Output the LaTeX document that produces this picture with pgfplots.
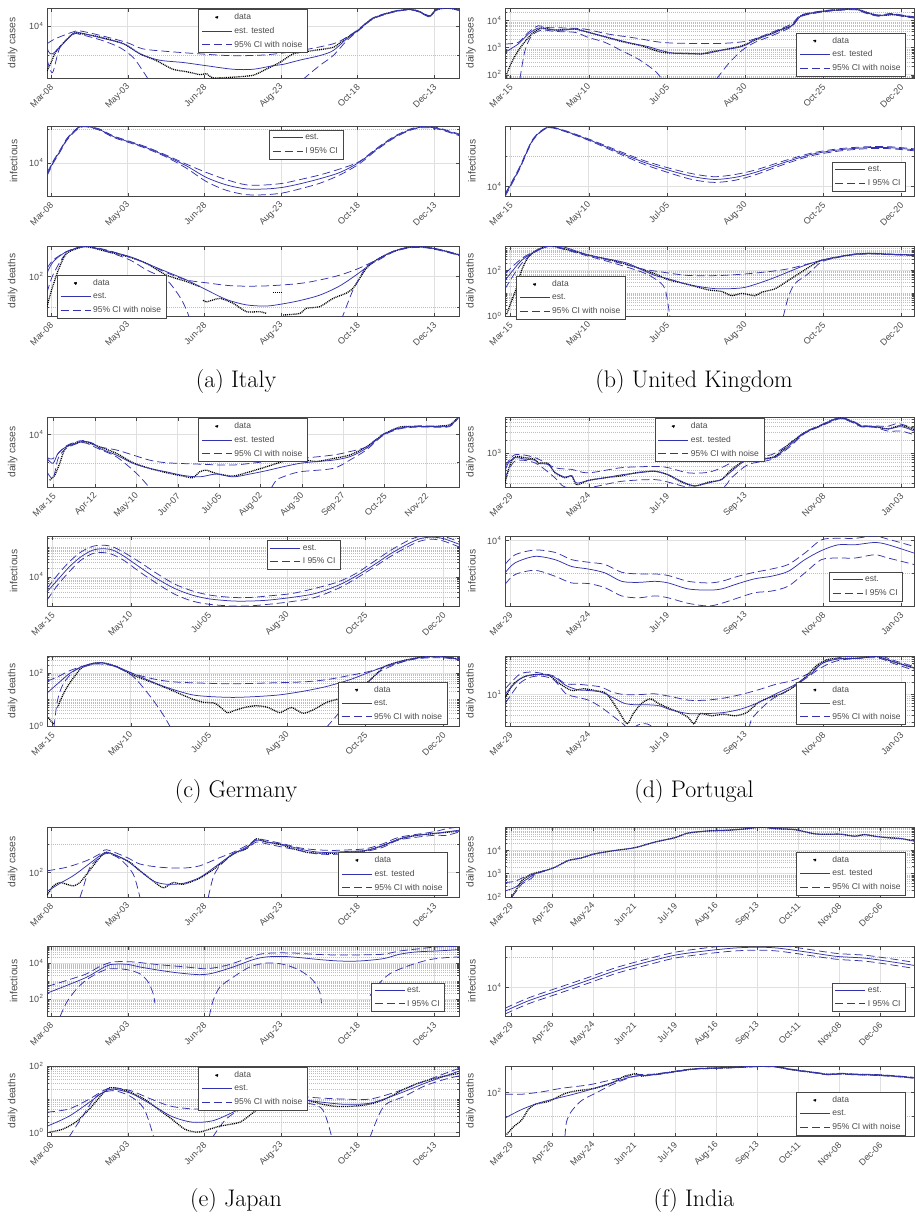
\documentclass[border=0pt]{standalone}
\usepackage{fontspec}
\usepackage{pgfplots}
\pgfplotsset{compat=1.18}
\newfontfamily\arial{Liberation Sans}
\definecolor{eblue}{RGB}{50,50,175}
\definecolor{axgray}{RGB}{70,70,70}
\definecolor{gridgray}{RGB}{224,224,224}
\definecolor{mingray}{RGB}{190,190,190}
\definecolor{txtgray}{RGB}{75,75,75}
\newcommand{\tickf}{\arial\fontsize{9}{10}\selectfont}
\newcommand{\labf}{\arial\fontsize{10.3}{12}\selectfont}
\newcommand{\legf}{\arial\fontsize{8.5}{10}\selectfont}
\newcommand{\capf}{\fontsize{24}{28}\selectfont}
\newcommand{\tl}[1]{10\kern0.6pt\textsuperscript{#1}}
\pgfplotsset{
 every axis/.append style={ymode=log, scale only axis, height=70pt,
  axis line style={draw=axgray,line width=0.65pt},
  tick style={draw=axgray,line width=0.5pt},
  tick align=inside, major tick length=3.5pt, minor tick length=2pt,
  xmajorgrids, ymajorgrids, yminorgrids,
  major grid style={draw=gridgray,line width=0.6pt},
  minor grid style={draw=mingray,line width=0.45pt,dash pattern=on 0.5pt off 1.5pt},
  tick label style={font=\tickf, text=txtgray},
  x tick label style={yshift=-7pt, xshift=1.5pt, rotate=45, anchor=east, inner sep=1pt},
  y label style={font=\labf, text=txtgray, at={(axis description cs:-0.063,0.5)}, anchor=south},
  legend style={font=\legf, text=txtgray, line width=0.6pt, fill=white, inner xsep=3pt, inner ysep=2pt, row sep=2.2pt, cells={anchor=west}},
  every axis legend/.append style={draw=axgray},
  legend image code/.code={\draw[##1,line width=0.9pt] (0pt,0pt) -- (30pt,0pt);},
  legend cell align=left},
 colLeft/.style={width=412pt}, colRight/.style={width=409pt},
 xItaly/.style={xmin=64,xmax=365,xtick={67,123,179,235,291,347},xticklabels={Mar-08,May-03,Jun-28,Aug-23,Oct-18,Dec-13}},
 xBritain/.style={xmin=70,xmax=363,xtick={74,130,186,242,298,354},xticklabels={Mar-15,May-10,Jul-05,Aug-30,Oct-25,Dec-20}},
 xGermA/.style={xmin=69.5,xmax=348.3,xtick={74,102,130,158,186,214,242,270,298,326},xticklabels={Mar-15,Apr-12,May-10,Jun-07,Jul-05,Aug-02,Aug-30,Sep-27,Oct-25,Nov-22}},
 xGermB/.style={xmin=70,xmax=365,xtick={74,130,186,242,298,354},xticklabels={Mar-15,May-10,Jul-05,Aug-30,Oct-25,Dec-20}},
 xPortugal/.style={xmin=84,xmax=377,xtick={88,144,200,256,312,368},xticklabels={Mar-29,May-24,Jul-19,Sep-13,Nov-08,Jan-03}},
 xIndia/.style={xmin=84,xmax=363,xtick={88,116,144,172,200,228,256,284,312,340},xticklabels={Mar-29,Apr-26,May-24,Jun-21,Jul-19,Aug-16,Sep-13,Oct-11,Nov-08,Dec-06}},
 plotEst/.style={color=eblue, draw=eblue, line width=0.75pt, smooth, tension=0.5, no markers},
 plotCi/.style={color=eblue, draw=eblue, line width=0.75pt, dash pattern=on 8pt off 4pt, smooth, tension=0.5, no markers},
 plotDat/.style={color=black, draw=black, line width=1.3pt, dash pattern=on 1pt off 0.9pt, smooth, tension=0.4, no markers, legend image code/.code={\fill[black] (15pt,0pt) circle (0.9pt);}},
}
\begin{document}
\begin{tikzpicture}
\path[use as bounding box] (0,0) rectangle (915pt,-1216pt);
%================ ITALY =================
\begin{axis}[colLeft,xItaly,at={(47pt,-8pt)},anchor=north west,ymin=178,ymax=40000,ytick={10000},yticklabels={\tl{4}},minor ytick={1000},ylabel={daily cases},legend style={at={(0.5,0.985)},anchor=north}]
\addplot[plotDat] coordinates {(64,310) (67,590) (71,1480) (83,5500) (89,5500) (103,4200) (120,2500) (132,1150) (144,680) (156,350) (166,290) (176,230) (180.5,250) (185,180) (200,190) (214.6,220) (224,350) (234,590) (244,1150) (258,1480) (273,1900) (280,3200) (291.7,7400) (302,17800) (317,30000) (329,36000) (336,30000) (343.6,21000) (348,34000) (356,40000) (365,34000)};
\addlegendentry{data}
\addplot[plotEst] coordinates {(64,1900) (68,1150) (83,5500) (88,5900) (103,4000) (120,2500) (132,1150) (146,710) (163.5,590) (180.5,460) (200,350) (214.6,350) (229,460) (236.5,510) (248.7,710) (263,1000) (273,1480) (283,3700) (291.7,7400) (302,17800) (317,30000) (329,36000) (336,30000) (343.6,21000) (348,34000) (356,41000) (365,34000)};
\addlegendentry{est. tested}
\addplot[plotCi] coordinates {(64,2500) (70,3700) (83,6300) (88,6800) (103,4800) (122,2800) (134,1700) (151,1400) (176,1150) (200,1000) (224,1070) (248.7,1480) (273,2500) (283,4200) (291.7,7800) (302,18500) (317,31000) (329,37000) (336,31000) (343.6,22000) (348,35000) (356,42000) (365,35000)};
\addlegendentry{95\% CI with noise}
\addplot[plotCi,forget plot] coordinates {(64,780) (68,270) (73.5,1900) (83,5200) (88,5200) (103,3400) (117,1900) (127,870) (134,310) (138,160)};
\addplot[plotCi,forget plot] coordinates {(251,160) (263,460) (273,1000) (283,3200) (291.7,7000) (302,17000) (317,29000) (329,35000) (336,29000) (343.6,20000) (348,33000) (356,40000) (365,33000)};
\end{axis}
\begin{axis}[colLeft,xItaly,at={(47pt,-126pt)},anchor=north west,ymin=1050,ymax=123000,ytick={10000},yticklabels={\tl{4}},minor ytick={100000},ylabel={infectious},legend style={at={(0.539,0.944)},anchor=north west}]
\addplot[plotEst] coordinates {(64,4700) (66,6600) (68.6,10700) (73.5,22400) (78.4,49000) (83,79000) (88,115000) (93,120000) (102.7,95000) (112.4,60000) (124.6,41000) (136.7,28000) (151.3,15800) (166,8100) (180.5,3700) (195,2240) (209.7,1700) (224.3,1700) (236.5,1900) (248.7,2400) (263.3,3400) (277.9,5200) (291.7,10200) (304.6,25000) (316.8,55000) (329,95000) (338.7,115000) (348.4,107000) (355.7,89000) (365,68000)};
\addlegendentry{est.}
\addplot[plotCi] coordinates {(64,5200) (66,7200) (68.6,11500) (73.5,24000) (78.4,52000) (83,83000) (88,120000) (93,124000) (102.7,99000) (112.4,63000) (124.6,43000) (136.7,29500) (151.3,16800) (166,9100) (180.5,5200) (195,3200) (209.7,2240) (224.3,2240) (236.5,2500) (248.7,3200) (263.3,4400) (277.9,6600) (291.7,10700) (304.6,26500) (316.8,58000) (329,99000) (338.7,120000) (348.4,112000) (355.7,93000) (365,72000)};
\addlegendentry{I 95\% CI}
\addplot[plotCi,forget plot] coordinates {(64,4200) (66,6000) (68.6,9900) (73.5,21000) (78.4,46000) (83,75000) (88,110000) (93,116000) (102.7,91000) (112.4,57000) (124.6,39000) (136.7,26500) (151.3,14800) (166,6900) (180.5,2800) (195,1550) (209.7,1150) (224.3,1150) (236.5,1300) (248.7,1700) (263.3,2500) (277.9,4400) (291.7,9100) (304.6,23500) (316.8,52000) (329,91000) (338.7,110000) (348.4,102000) (355.7,85000) (365,64000)};
\end{axis}
\begin{axis}[colLeft,xItaly,at={(47pt,-246pt)},anchor=north west,ymin=5.2,ymax=1000,ytick={100},yticklabels={\tl{2}},minor ytick={10},ylabel={daily deaths},legend style={at={(0.024,0.586)},anchor=north west}]
\addplot[plotDat] coordinates {(64,10.5) (67.4,37) (72.3,166) (78.4,575) (91.7,950) (107.6,660) (124.6,430) (136.7,270) (151.3,112) (166,69) (175.7,47)};
\addlegendentry{data}
\addplot[plotDat,forget plot] coordinates {(178.1,17) (180.5,15) (190.3,19.5) (200,13.5) (209.7,7.2) (219.5,7.2) (224.3,6.3)};
\addplot[plotDat,forget plot] coordinates {(229.2,30) (235.3,30)};
\addplot[plotDat,forget plot] coordinates {(236.5,5.6) (248.7,6.3) (253.5,9.3) (263.3,10.5) (273,19.5) (282.7,29) (287.6,42) (291.7,78) (297.3,186) (304.6,350) (316.8,660) (329,910) (341.1,910) (353.3,710) (365,510)};
\addplot[plotEst] coordinates {(64,130) (68.6,310) (78.4,660) (91.7,990) (95.4,950) (107.6,710) (124.6,450) (136.7,270) (151.3,145) (166,78) (180.5,37) (195.1,18) (209.7,12) (224.3,11) (236.5,13) (248.7,16.6) (263.3,25) (277.9,50) (291.7,130) (304.6,350) (316.8,660) (329,910) (341.1,910) (353.3,710) (365,510)};
\addlegendentry{est.}
\addplot[plotCi] coordinates {(64,186) (68.6,350) (78.4,660) (91.7,1000) (107.6,740) (124.6,430) (136.7,270) (151.3,135) (166,78) (180.5,63) (200,50) (224.3,50) (248.7,60) (263.3,78) (277.9,112) (291.7,186) (304.6,350) (316.8,670) (329,930) (341.1,930) (353.3,730) (365,530)};
\addlegendentry{95\% CI with noise}
\addplot[plotCi,forget plot] coordinates {(64,30) (68.6,120) (78.4,600) (91.7,950) (107.6,660) (124.6,350) (136.7,166) (151.3,78) (161,22) (166,8) (168.4,4)};
\addplot[plotCi,forget plot] coordinates {(279.1,4) (282.7,10.5) (287.6,37) (291.7,78) (297.3,214) (304.6,316) (316.8,630) (329,870) (341.1,870) (353.3,680) (365,490)};
\end{axis}
%================ UK =================
\begin{axis}[colRight,xBritain,at={(505pt,-8pt)},anchor=north west,ymin=76,ymax=29500,ytick={100,1000,10000},yticklabels={\tl{2},\tl{3},\tl{4}},minor ytick={80,90,200,300,400,500,600,700,800,900,2000,3000,4000,5000,6000,7000,8000,9000,20000},ylabel={daily cases},legend style={at={(0.98,0.02)},anchor=south east}]
\addplot[plotDat] coordinates {(71.2,105) (73.6,215) (77.2,500) (81.9,1170) (89.1,3200) (96.3,5400) (105.8,4500) (120.1,4900) (134.4,3200) (153.5,1700) (167.9,1170) (182.2,680) (196.5,620) (210.8,590) (215.6,680) (225.1,810) (239.5,1170) (249,1900) (260.9,3400) (275.3,6500) (282.4,15500) (301.5,23400) (320.6,27000) (327.8,21400) (337.3,15500) (346.8,16600) (354,15500) (363,13200)};
\addlegendentry{data}
\addplot[plotEst] coordinates {(70,680) (79.5,1380) (86.7,3200) (93.9,5400) (99.8,4900) (105.8,4500) (113,4500) (120.1,4900) (127.3,4000) (134.4,3200) (144,2400) (153.5,1800) (163.1,1380) (172.6,1100) (182.2,780) (191.7,620) (201.3,620) (210.8,590) (215.6,620) (225.1,810) (237.1,1020) (244.2,1380) (249,2100) (260.9,3200) (268.1,4900) (275.3,6500) (282.4,15500) (292,20400) (301.5,23400) (311,25000) (320.6,27000) (327.8,20400) (337.3,15500) (346.8,17800) (354,15500) (363,13200)};
\addlegendentry{est. tested}
\addplot[plotCi] coordinates {(70,1380) (79.5,1580) (86.7,3700) (93.9,6500) (99.8,5600) (113,5400) (127.3,4900) (144,3200) (163.1,2300) (182.2,1580) (201.3,1450) (225.1,1450) (244.2,1800) (260.9,3700) (275.3,7600) (282.4,16500) (301.5,24500) (320.6,28500) (327.8,21500) (337.3,16300) (346.8,18700) (354,16300) (363,14000)};
\addlegendentry{95\% CI with noise}
\addplot[plotCi,forget plot] coordinates {(80.7,70) (84.3,780) (89.1,2750) (96.3,4500) (105.8,4000) (120.1,3700) (129.7,2400) (141.6,1580) (153.5,780) (165.5,380) (177.4,140) (182.2,70)};
\addplot[plotCi,forget plot] coordinates {(221.6,70) (229.9,250) (239.5,780) (249,1580) (260.9,2750) (275.3,6000) (282.4,14500) (301.5,22300) (320.6,25500) (327.8,19400) (337.3,14700) (346.8,16900) (354,14700) (363,12500)};
\end{axis}
\begin{axis}[colRight,xBritain,at={(505pt,-126pt)},anchor=north west,ymin=4700,ymax=1070000,ytick={10000},yticklabels={\tl{4}},minor ytick={100000},ylabel={infectious},legend style={at={(0.98,0.07)},anchor=south east}]
\addplot[plotEst] coordinates {(70,5000) (80,37000) (90,370000) (100,930000) (110,800000) (130,370000) (150,150000) (170,63000) (190,32000) (205,21000) (220,17000) (235,20000) (250,30000) (270,63000) (290,120000) (310,170000) (330,200000) (345,200000) (363,170000)};
\addlegendentry{est.}
\addplot[plotCi] coordinates {(70,5500) (80,40000) (90,390000) (100,960000) (110,830000) (130,390000) (150,165000) (170,72000) (190,38000) (205,26000) (220,21000) (235,25000) (250,36000) (270,72000) (290,132000) (310,185000) (330,215000) (345,215000) (363,183000)};
\addlegendentry{I 95\% CI}
\addplot[plotCi,forget plot] coordinates {(70,4500) (80,34000) (90,350000) (100,900000) (110,770000) (130,350000) (150,136000) (170,54000) (190,26000) (205,16500) (220,13500) (235,16000) (250,25000) (270,55000) (290,108000) (310,155000) (330,185000) (345,185000) (363,157000)};
\end{axis}
\begin{axis}[colRight,xBritain,at={(505pt,-246pt)},anchor=north west,ymin=1,ymax=1170,ytick={1,100},yticklabels={\tl{0},\tl{2}},minor ytick={2,3,4,5,6,7,8,9,10,20,30,40,50,60,70,80,90,200,300,400,500,600,700,800,900},ylabel={daily deaths},legend style={at={(0.027,0.57)},anchor=north west}]
\addplot[plotDat] coordinates {(71.2,1.2) (74.8,4.7) (78.4,18) (81.9,100) (86.7,390) (93.9,830) (103.4,1170) (129.7,470) (148.8,257) (163.1,141) (177.4,71) (186.9,39) (201.3,24) (215.6,14) (225.1,12) (232.3,7.8) (239.5,9.8) (249,7.8) (253.8,11) (263.3,15.5) (272.9,36) (282.4,85) (292,200) (296.7,275) (308.7,390) (320.6,510) (332.5,550) (344.5,510) (363,470)};
\addlegendentry{data}
\addplot[plotEst] coordinates {(70,36) (81.9,275) (93.9,780) (103.4,1170) (113,1020) (129.7,470) (148.8,275) (158.3,200) (167.9,107) (177.4,60) (186.9,43) (201.3,24) (215.6,17) (225.1,15.5) (239.5,17) (249,24) (260.9,43) (272.9,85) (284.8,166) (296.7,275) (308.7,390) (320.6,510) (332.5,550) (344.5,510) (363,470)};
\addlegendentry{est.}
\addplot[plotCi] coordinates {(70,71) (81.9,330) (93.9,830) (103.4,1170) (129.7,470) (153.5,200) (167.9,117) (182.2,85) (201.3,60) (225.1,60) (249,76) (272.9,117) (296.7,275) (308.7,395) (320.6,520) (332.5,560) (344.5,520) (363,480)};
\addlegendentry{95\% CI with noise}
\addplot[plotCi,forget plot] coordinates {(70,15.5) (81.9,200) (93.9,780) (103.4,1100) (129.7,420) (148.8,200) (167.9,85) (177.4,43) (184.6,15.5) (188.1,0.9)};
\addplot[plotCi,forget plot] coordinates {(269.3,0.9) (272.9,6.5) (277.6,26) (287.2,71) (296.7,234) (308.7,370) (320.6,490) (332.5,525) (344.5,490) (363,450)};
\end{axis}
%================ GERMANY =================
\begin{axis}[colLeft,xGermA,at={(47pt,-417pt)},anchor=north west,ymin=141,ymax=40000,ytick={10000},yticklabels={\tl{4}},minor ytick={1000},ylabel={daily cases},legend style={at={(0.5,0.985)},anchor=north}]
\addplot[plotDat] coordinates {(71.3,245) (74.7,360) (78.1,950) (82.6,3600) (93.9,5500) (105.1,3600) (116.4,2140) (127.7,1000) (139,630) (150.2,450) (161.5,340) (168.3,300) (172.8,480) (177.3,550) (184,420) (195.3,340) (206.6,480) (217.9,720) (229.2,1100) (240.5,1320) (251.7,1100) (263,1400) (274.3,1860) (285.6,3600) (296.8,9500) (308.1,17800) (319.4,18600) (330.7,18600) (342,21400) (348.3,42000)};
\addlegendentry{data}
\addplot[plotEst] coordinates {(69.5,1400) (73.6,950) (77,2140) (82.6,3600) (93.9,5500) (100.6,4800) (105.1,3200) (116.4,1860) (127.7,950) (139,630) (150.2,480) (161.5,360) (172.8,320) (184,400) (195.3,320) (206.6,400) (217.9,525) (229.2,720) (240.5,950) (251.7,1100) (263,1230) (274.3,1620) (285.6,3200) (296.8,9500) (308.1,16200) (319.4,18600) (330.7,18600) (342,19500) (348.3,42000)};
\addlegendentry{est. tested}
\addplot[plotCi] coordinates {(69.5,1550) (73.6,1400) (82.6,3900) (93.9,6000) (105.1,3600) (116.4,2800) (127.7,1860) (139,1230) (150.2,1000) (172.8,890) (195.3,830) (217.9,1100) (240.5,1400) (263,1860) (274.3,2450) (285.6,3600) (296.8,10000) (308.1,17000) (319.4,19500) (330.7,19500) (342,20500) (348.3,44000)};
\addlegendentry{95\% CI with noise}
\addplot[plotCi,forget plot] coordinates {(69.5,480) (73.6,280) (77,1400) (82.6,3200) (93.9,5100) (105.1,2950) (116.4,1620) (127.7,550) (134.5,245) (139,130)};
\addplot[plotCi,forget plot] coordinates {(221.3,130) (224.7,245) (229.2,320) (240.5,480) (263,630) (274.3,1230) (285.6,2800) (296.8,8900) (308.1,15400) (319.4,17700) (330.7,17700) (342,18500) (348.3,40000)};
\end{axis}
\begin{axis}[colLeft,xGermB,at={(47pt,-536pt)},anchor=north west,ymin=1055,ymax=233000,ytick={10000},yticklabels={\tl{4}},minor ytick={2000,3000,4000,5000,6000,7000,8000,9000,20000,30000,40000,50000,60000,70000,80000,90000,100000,200000},ylabel={infectious},legend style={at={(0.533,0.94)},anchor=north west}]
\addplot[plotEst] coordinates {(70,3160) (77.5,7800) (85.9,21400) (94.3,47000) (102.7,78000) (110.2,87000) (117.3,78000) (125.7,47000) (136.2,21400) (148.7,8700) (161.3,4100) (173.9,2450) (186.4,1820) (203.2,1550) (215.7,1550) (228.3,1660) (245,2040) (261.8,2750) (278.5,5200) (291.1,10500) (303.7,24500) (316.2,60000) (328.8,129000) (337.2,190000) (345.5,214000) (353.9,190000) (365.2,123000)};
\addlegendentry{est.}
\addplot[plotCi] coordinates {(70,4100) (77.5,11500) (85.9,31600) (94.3,68000) (102.7,105000) (110.2,115000) (117.3,100000) (125.7,63000) (136.2,31600) (148.7,12900) (161.3,5750) (173.9,3400) (186.4,2450) (203.2,2040) (215.7,2040) (228.3,2290) (245,2750) (261.8,4100) (278.5,6800) (291.1,12900) (303.7,31600) (316.2,78000) (328.8,166000) (337.2,229000) (345.5,245000) (353.9,229000) (365.2,148000)};
\addlegendentry{I 95\% CI}
\addplot[plotCi,forget plot] coordinates {(70,1660) (77.5,5200) (85.9,14800) (94.3,36300) (102.7,60000) (110.2,65000) (117.3,55000) (125.7,34000) (136.2,14800) (148.7,6000) (161.3,2630) (173.9,1550) (186.4,1200) (203.2,1050) (215.7,1070) (228.3,1200) (245,1480) (261.8,2040) (278.5,4100) (291.1,8700) (303.7,20400) (316.2,49000) (328.8,105000) (337.2,158000) (345.5,182000) (353.9,158000) (365.2,100000)};
\end{axis}
\begin{axis}[colLeft,xGermB,at={(47pt,-656pt)},anchor=north west,ymin=1,ymax=436,ytick={1,100},yticklabels={\tl{0},\tl{2}},minor ytick={2,3,4,5,6,7,8,9,10,20,30,40,50,60,70,80,90,200,300,400},ylabel={daily deaths},legend style={at={(0.972,0.015)},anchor=south east}]
\addplot[plotDat] coordinates {(77.5,5) (81.7,16) (85.9,39) (94.3,148) (102.7,229) (110.2,240) (119.4,178) (132,81) (144.5,46) (157.1,25) (165.5,16) (173.9,10.5) (182.2,7.8) (190.6,7.1) (199,3.2) (203.2,3.7) (211.5,5) (219.9,5.8) (228.3,5) (236.7,3.2) (245,5) (253.4,3) (261.8,4.4) (270.2,7.8) (278.5,10.5) (286.9,16) (295.3,29) (303.7,71) (312,178) (324.6,288) (337.2,390) (345.5,436) (353.9,407) (365.2,324)};
\addlegendentry{data}
\addplot[plotDat,forget plot] coordinates {(71,2.1) (73,1.5) (75.4,1.15)};
\addplot[plotEst] coordinates {(70,17.4) (77.5,39) (85.9,93) (94.3,170) (102.7,229) (110.2,240) (119.4,178) (132,93) (148.7,39) (161.3,23) (173.9,15) (186.4,12.9) (203.2,12) (219.9,12.9) (236.7,15) (253.4,20.4) (270.2,31) (286.9,56) (299.5,100) (312,178) (324.6,288) (337.2,390) (345.5,436) (353.9,407) (365.2,324)};
\addlegendentry{est.}
\addplot[plotCi] coordinates {(70,49) (77.5,71) (85.9,120) (94.3,170) (102.7,214) (110.2,229) (119.4,170) (132,93) (148.7,56) (161.3,46) (178,42) (203.2,39) (228.3,42) (253.4,46) (270.2,56) (286.9,81) (299.5,110) (312,170) (324.6,263) (337.2,372) (353.9,407) (365.2,347)};
\addlegendentry{95\% CI with noise}
\addplot[plotCi,forget plot] coordinates {(75,0.9) (77.5,9.1) (81.7,39) (90.1,126) (102.7,209) (110.2,214) (119.4,170) (132,71) (144.5,12) (152.9,2.8) (158.4,0.9)};
\addplot[plotCi,forget plot] coordinates {(270.2,0.9) (286.9,9.1) (297.4,32) (307.9,110) (324.6,263) (337.2,355) (353.9,372) (365.2,302)};
\end{axis}
%================ PORTUGAL =================
\begin{axis}[colRight,xPortugal,at={(505pt,-417pt)},anchor=north west,ymin=166,ymax=6650,ytick={1000},yticklabels={\tl{3}},minor ytick={200,300,400,500,600,700,800,900,2000,3000,4000,5000,6000},ylabel={daily cases},legend style={at={(0.5,0.985)},anchor=north}]
\addplot[plotDat] coordinates {(84,205) (87.6,540) (91.2,810) (98.3,780) (105.5,710) (107.9,590) (115,575) (119.8,350) (127,270) (131.7,300) (135.3,186) (143.7,235) (155.6,270) (167.5,300) (179.5,360) (191.4,380) (200.9,316) (210.5,214) (220,174) (229.6,214) (239.1,245) (246.3,420) (255.8,660) (267.8,720) (277.3,830) (286.9,1550) (298.8,2950) (310.7,4300) (317.9,5600) (325,6300) (334.6,5000) (339.4,4100) (348.9,4000) (358.5,3550) (368,4300) (377,3400)};
\addlegendentry{data}
\addplot[plotEst] coordinates {(84,380) (86.4,590) (91.2,780) (98.3,720) (105.5,680) (107.9,575) (115,540) (119.8,360) (127,280) (131.7,300) (135.3,205) (143.7,235) (155.6,270) (167.5,316) (179.5,350) (191.4,380) (200.9,316) (210.5,224) (220,178) (234.4,224) (239.1,245) (246.3,380) (255.8,650) (267.8,720) (277.3,810) (286.9,1400) (298.8,2900) (310.7,4300) (317.9,5400) (325,6300) (334.6,4900) (339.4,4100) (348.9,4000) (358.5,3550) (368,4000) (377,3160)};
\addlegendentry{est. tested}
\addplot[plotCi] coordinates {(84,490) (91.2,910) (105.5,780) (119.8,460) (131.7,420) (143.7,350) (167.5,460) (191.4,490) (200.9,460) (215.3,350) (229.6,360) (239.1,460) (251.1,710) (263,830) (274.9,910) (286.9,1550) (298.8,3000) (310.7,4450) (317.9,5600) (325,6500) (334.6,5100) (339.4,4250) (348.9,4150) (358.5,4100) (365.6,4700) (377,3700)};
\addlegendentry{95\% CI with noise}
\addplot[plotCi,forget plot] coordinates {(84,270) (91.2,650) (105.5,590) (119.8,270) (127,166) (143.7,160) (167.5,224) (191.4,245) (203.3,205) (215.3,166) (239.1,160) (246.3,270) (258.2,540) (274.9,710) (286.9,1290) (298.8,2800) (310.7,4150) (317.9,5200) (325,6100) (334.6,4700) (339.4,3950) (348.9,3850) (358.5,3160) (368,3160) (377,2600)};
\end{axis}
\begin{axis}[colRight,xPortugal,at={(505pt,-536pt)},anchor=north west,ymin=95,ymax=13800,ytick={10000},yticklabels={\tl{4}},minor ytick={1000},ylabel={infectious},legend style={at={(0.973,0.07)},anchor=south east}]
\addplot[plotEst] coordinates {(84,1000) (91.2,2040) (105.5,3240) (119.8,2570) (131.7,1580) (143.7,1320) (155.6,1000) (167.5,550) (179.5,510) (191.4,550) (200.9,490) (215.3,320) (229.6,295) (239.1,320) (251.1,470) (263,660) (274.9,790) (286.9,1120) (298.8,2570) (310.7,4900) (322.7,7400) (334.6,7400) (348.9,8700) (358.5,7400) (377,4100)};
\addlegendentry{est.}
\addplot[plotCi] coordinates {(84,1820) (91.2,3630) (105.5,5100) (119.8,4300) (131.7,2570) (143.7,2140) (155.6,1820) (167.5,1050) (179.5,930) (191.4,930) (200.9,830) (215.3,550) (229.6,490) (239.1,550) (251.1,790) (263,1050) (274.9,1320) (286.9,1820) (298.8,4100) (310.7,10500) (322.7,11700) (334.6,11700) (348.9,13800) (358.5,11000) (377,6600)};
\addlegendentry{I 95\% CI}
\addplot[plotCi,forget plot] coordinates {(84,440) (91.2,890) (105.5,1200) (119.8,790) (131.7,490) (143.7,470) (155.6,350) (167.5,195) (179.5,170) (191.4,195) (200.9,170) (215.3,115) (229.6,95) (239.1,115) (251.1,170) (263,245) (274.9,275) (286.9,390) (298.8,1000) (310.7,2570) (322.7,2880) (334.6,2880) (348.9,3630) (358.5,2880) (377,1820)};
\end{axis}
\begin{axis}[colRight,xPortugal,at={(505pt,-656pt)},anchor=north west,ymin=1.6,ymax=94,ytick={10},yticklabels={\tl{1}},minor ytick={2,3,4,5,6,7,8,9,20,30,40,50,60,70,80,90},ylabel={daily deaths},legend style={at={(0.98,0.015)},anchor=south east}]
\addplot[plotDat] coordinates {(84.2,8.5) (90,18.6) (98.4,29) (106.7,32) (115.1,31) (123.4,18.6) (131.8,12.6) (140.1,14) (148.5,12.6) (156.8,10.5) (165.2,3.9) (171.5,1.8) (175.6,3.2) (181.9,6) (188.2,7.8) (194.5,5.8) (202.8,4.3) (209.1,3.5) (215.4,2.6) (219.5,1.8) (223.7,3.3) (232.1,2.9) (240.5,3.2) (248.9,2.9) (257.2,3.5) (265.6,6.3) (274,8.5) (282.3,10.5) (290.7,15.5) (299.1,27.5) (307.5,55) (315.8,78) (328.4,81) (340.9,85) (349.3,93) (361.8,68) (377.7,46)};
\addlegendentry{data}
\addplot[plotEst] coordinates {(84.2,10.5) (94.2,24) (102.5,31) (110.9,32) (119.3,27.5) (127.6,17) (136,13.2) (144.3,12.6) (152.7,11.5) (161,8.5) (169.4,6) (177.7,5.5) (186.1,5.5) (194.5,5.2) (202.8,4.1) (215.4,3.3) (227.9,3.3) (240.5,3.5) (253.1,4.3) (265.6,6.3) (278.2,10.5) (290.7,17) (303.3,34) (311.6,62) (324.2,81) (336.7,81) (349.3,93) (361.8,68) (377.7,46)};
\addlegendentry{est.}
\addplot[plotCi] coordinates {(84.2,14) (94.2,32) (102.5,37) (110.9,34) (119.3,29) (127.6,18.6) (136,18.2) (144.3,17) (152.7,15.5) (161,11.5) (169.4,10) (181.9,10) (190.3,10.5) (202.8,8.9) (215.4,7.2) (227.9,7.2) (240.5,8.1) (253.1,10) (265.6,13.2) (278.2,18.2) (290.7,23) (303.3,37) (311.6,63) (324.2,87) (349.3,100) (361.8,74) (377.7,50)};
\addlegendentry{95\% CI with noise}
\addplot[plotCi,forget plot] coordinates {(84.2,6) (94.2,18.6) (102.5,27.5) (110.9,29) (119.3,23) (127.6,10.5) (136,8.5) (144.3,7.1) (152.7,4.8) (161,2.9) (169.4,1.7) (171.5,1.4)};
\addplot[plotCi,forget plot] coordinates {(175.6,1.4) (180,1.74) (186,1.8) (191,1.4)};
\addplot[plotCi,forget plot] coordinates {(259,1.4) (261.4,2.6) (274,7.1) (286.5,12.6) (299.1,25) (311.6,50) (324.2,74) (349.3,85) (361.8,62) (377.7,40)};
\end{axis}
%================ JAPAN =================
\begin{axis}[colLeft,xItaly,at={(47pt,-827pt)},anchor=north west,ymin=14.5,ymax=3800,ytick={100},yticklabels={\tl{2}},minor ytick={1000},ylabel={daily cases},legend style={at={(0.973,0.015)},anchor=south east}]
\addplot[plotDat] coordinates {(64.2,17) (68.6,35) (73.5,46) (78.4,40) (83.2,35) (88.1,46) (93,89) (97.8,174) (102.7,340) (107.6,510) (117.3,340) (124.6,230) (131.9,117) (141.6,52) (148.9,30) (156.2,46) (163.5,40) (175.7,65) (187.8,155) (200,450) (209.7,680) (217,1480) (224.3,1150) (234,950) (243.8,680) (253.5,510) (263.3,470) (273,470) (285.2,510) (297.3,590) (309.5,870) (321.7,1480) (333.8,1950) (346,2240) (365,2750)};
\addlegendentry{data}
\addplot[plotEst] coordinates {(64.2,23) (73.5,43) (83.2,79) (93,174) (102.7,390) (107.6,510) (114.9,390) (122.2,263) (131.9,117) (141.6,52) (151.3,40) (163.5,43) (175.7,69) (187.8,174) (200,450) (209.7,760) (217,1320) (224.3,1150) (234,1000) (243.8,760) (253.5,590) (263.3,510) (273,510) (285.2,550) (297.3,590) (309.5,870) (321.7,1480) (333.8,1950) (346,2240) (365,2950)};
\addlegendentry{est. tested}
\addplot[plotCi] coordinates {(64.2,117) (78.4,155) (93,263) (102.7,450) (107.6,620) (122.2,340) (131.9,200) (146.5,155) (163.5,145) (175.7,174) (187.8,300) (200,510) (212.2,1000) (217,1480) (224.3,1320) (236.5,1000) (248.7,720) (260.8,620) (273,590) (285.2,620) (297.3,680) (309.5,1000) (321.7,1700) (346,2570) (355.7,3300) (365,3800)};
\addlegendentry{95\% CI with noise}
\addplot[plotCi,forget plot] coordinates {(88.1,14) (90.5,31) (95.4,155) (102.7,340) (107.6,470) (117.3,300) (127,89) (131.9,14)};
\addplot[plotCi,forget plot] coordinates {(181.8,14) (185.4,69) (190.3,174) (200,430) (209.7,680) (217,1150) (224.3,1000) (236.5,760) (248.7,590) (260.8,450) (273,430) (285.2,470) (297.3,550) (309.5,760) (321.7,1380) (346,1950) (355.7,1950) (365,2570)};
\end{axis}
\begin{axis}[colLeft,xItaly,at={(47pt,-946pt)},anchor=north west,ymin=11,ymax=89000,ytick={100,10000},yticklabels={\tl{2},\tl{4}},minor ytick={20,30,40,50,60,70,80,90,200,300,400,500,600,700,800,900,1000,2000,3000,4000,5000,6000,7000,8000,9000,20000,30000,40000,50000,60000,70000,80000},ylabel={infectious},legend style={at={(0.966,0.06)},anchor=south east}]
\addplot[plotEst] coordinates {(64.2,210) (78.4,560) (93,1620) (102.7,4300) (110,8100) (122.2,8500) (131.9,6000) (146.5,3900) (161,2750) (175.7,2240) (185.4,2750) (200,6000) (214.6,15500) (224.3,21900) (236.5,23400) (248.7,20000) (263.3,15500) (277.9,12900) (291.7,12900) (309.5,17400) (321.7,31000) (333.8,41700) (348.4,46800) (365,56000)};
\addlegendentry{est.}
\addplot[plotCi] coordinates {(64.2,490) (78.4,1070) (93,2500) (102.7,6500) (112.4,11500) (127,11500) (139.2,9100) (151.3,7400) (165.9,6000) (180.5,4800) (195.1,7400) (209.7,17400) (219.5,31000) (229.2,36300) (243.8,36300) (258.4,31000) (273,28200) (291.7,28200) (309.5,31000) (321.7,46800) (336.3,63000) (348.4,79000) (365,85000)};
\addlegendentry{I 95\% CI}
\addplot[plotCi,forget plot] coordinates {(73.5,10) (78.4,65) (85.7,363) (93,1170) (102.7,3160) (110,4800) (122.2,4300) (131.9,2500) (138,850) (141.6,190) (142.8,58)};
\addplot[plotCi,forget plot] coordinates {(182.5,10) (185.4,81) (190.3,450) (200,1620) (212.2,6000) (224.3,10000) (236.5,8500) (248.7,3900) (258.4,1070) (263.3,234) (264.5,58)};
\addplot[plotCi,forget plot] coordinates {(300,150) (304.6,490) (314.4,2500) (329,7400) (343.6,15500) (355.7,20000) (365,21900)};
\end{axis}
\begin{axis}[colLeft,xItaly,at={(47pt,-1066pt)},anchor=north west,ymin=0.76,ymax=100,ytick={1,100},yticklabels={\tl{0},\tl{2}},minor ytick={2,3,4,5,6,7,8,9,10,20,30,40,50,60,70,80,90},ylabel={daily deaths},legend style={at={(0.5,0.985)},anchor=north}]
\addplot[plotDat] coordinates {(66,1) (75,1.2) (85,2) (95,5) (105,15) (110,22) (118,20) (125,16) (135,10) (145,5) (155,2.5) (165,1.2) (175,1) (190,1.5) (205,2) (215,4) (225,8) (235,12) (245,11) (255,9) (265,7) (275,6) (285,6) (295,6.5) (305,8) (315,12) (325,20) (335,30) (345,40) (355,50) (365,60)};
\addlegendentry{data}
\addplot[plotEst] coordinates {(64,1.5) (80,3) (95,8) (105,16) (112,20) (125,15) (140,7) (155,3) (170,2) (185,2.2) (200,4) (215,8) (230,10.5) (245,10) (260,8.5) (280,7) (300,7.5) (320,14) (340,30) (355,50) (365,70)};
\addlegendentry{est.}
\addplot[plotCi] coordinates {(64,4) (80,5) (95,10) (105,18) (112,22) (125,18) (140,10) (155,6) (175,5) (200,6.5) (220,11) (240,13) (260,11) (280,10) (300,10) (320,17) (340,35) (355,60) (365,85)};
\addlegendentry{95\% CI with noise}
\addplot[plotCi,forget plot] coordinates {(80,0.7) (90,3) (100,12) (112,18) (125,12) (135,5) (142,0.7)};
\addplot[plotCi,forget plot] coordinates {(185,0.7) (195,2.5) (210,6) (230,8.5) (250,8) (265,5) (272,0.7)};
\addplot[plotCi,forget plot] coordinates {(300,0.7) (310,6) (325,12) (340,25) (355,40) (365,50)};
\end{axis}
%================ INDIA =================
\begin{axis}[colRight,xIndia,at={(505pt,-827pt)},anchor=north west,ymin=100,ymax=102000,ytick={100,1000,10000},yticklabels={\tl{2},\tl{3},\tl{4}},minor ytick={200,300,400,500,600,700,800,900,2000,3000,4000,5000,6000,7000,8000,9000,20000,30000,40000,50000,60000,70000,80000,90000},ylabel={daily cases},legend style={at={(0.98,0.02)},anchor=south east}]
\addplot[plotDat] coordinates {(88.5,100) (91.9,214) (95.4,500) (102.2,980) (111.2,1350) (118.1,1900) (127.1,3700) (136.2,4800) (145.3,7200) (158.9,10000) (172.6,13200) (186.2,22900) (199.8,35500) (208.9,56000) (222.5,69000) (236.1,74000) (249.8,87000) (258.8,102000) (267.9,87000) (281.5,79000) (295.2,52000) (304.3,50000) (313.3,50000) (322.4,41000) (329.2,48000) (336,41000) (345.1,35500) (354.2,32400) (362.8,25700)};
\addlegendentry{data}
\addplot[plotEst] coordinates {(84,182) (90.8,257) (95.4,417) (99.9,645) (104.4,980) (111.2,1350) (118.1,1900) (127.1,3700) (136.2,4800) (145.3,7200) (158.9,10000) (172.6,13200) (186.2,22900) (199.8,35500) (208.9,56000) (222.5,69000) (236.1,74000) (249.8,87000) (258.8,102000) (267.9,87000) (281.5,79000) (295.2,52000) (304.3,50000) (313.3,50000) (322.4,41000) (329.2,48000) (336,41000) (345.1,35500) (354.2,32400) (362.8,25700)};
\addlegendentry{est. tested}
\addplot[plotCi] coordinates {(84,417) (90.8,470) (95.4,645) (102.2,910) (104.4,1020) (111.2,1400)};
\addlegendentry{95\% CI with noise}
\addplot[plotCi,forget plot] coordinates {(88.5,100) (91.9,182) (95.4,355) (102.2,645) (104.4,940) (111.2,1300)};
\end{axis}
\begin{axis}[colRight,xIndia,at={(505pt,-946pt)},anchor=north west,ymin=1170,ymax=234000,ytick={10000},yticklabels={\tl{4}},minor ytick={100000},ylabel={infectious},legend style={at={(0.98,0.06)},anchor=south east}]
\addplot[plotEst] coordinates {(84,1700) (100,3700) (120,7900) (140,17000) (160,37000) (180,68000) (200,117000) (220,160000) (240,200000) (256,214000) (270,200000) (290,148000) (310,107000) (330,93000) (350,68000) (363,54000)};
\addlegendentry{est.}
\addplot[plotCi] coordinates {(84,2100) (100,4600) (120,9900) (140,21000) (160,46000) (180,85000) (200,146000) (220,200000) (240,250000) (256,268000) (270,250000) (290,185000) (310,134000) (330,116000) (350,85000) (363,68000)};
\addlegendentry{I 95\% CI}
\addplot[plotCi,forget plot] coordinates {(84,1360) (100,2960) (120,6300) (140,13600) (160,29600) (180,54000) (200,94000) (220,128000) (240,160000) (256,171000) (270,160000) (290,118000) (310,86000) (330,74000) (350,54000) (363,43000)};
\end{axis}
\begin{axis}[colRight,xIndia,at={(505pt,-1066pt)},anchor=north west,ymin=1.5,ymax=1300,ytick={100},yticklabels={\tl{2}},minor ytick={10},ylabel={daily deaths},legend style={at={(0.98,0.01)},anchor=south east}]
\addplot[plotDat] coordinates {(85.1,1.74) (89.7,3.6) (95.4,7.1) (99.9,19.5) (104.4,32) (113.5,42) (124.9,91) (131.7,115) (145.3,151) (156.7,250) (165.7,490) (173.7,620) (177.1,490) (186.2,575) (199.8,760) (213.4,980) (229.3,1070) (243,1150) (256.6,1260) (267.9,1230) (277,980) (286.1,810) (295.2,690) (304.3,575) (313.3,620) (322.4,575) (336,550) (349.7,490) (362.8,417)};
\addlegendentry{data}
\addplot[plotEst] coordinates {(84,8.5) (95.4,19.5) (106.7,36) (118.1,55) (129.4,81) (140.8,126) (152.1,209) (163.5,347) (172.6,490) (186.2,575) (199.8,760) (213.4,980) (229.3,1070) (243,1150) (256.6,1260) (267.9,1230) (277,980) (286.1,810) (295.2,690) (304.3,575) (313.3,620) (322.4,575) (336,550) (349.7,490) (362.8,417)};
\addlegendentry{est.}
\addplot[plotCi] coordinates {(84,85) (95.4,85) (109,107) (122.6,151) (140.8,209) (152.1,295) (163.5,417) (172.6,550) (186.2,600) (199.8,790) (213.4,1010) (229.3,1100) (243,1190) (256.6,1300) (267.9,1270) (277,1010) (286.1,840) (295.2,715) (304.3,600) (313.3,645) (322.4,600) (336,575) (349.7,510) (362.8,435)};
\addlegendentry{95\% CI with noise}
\addplot[plotCi,forget plot] coordinates {(124.9,1.4) (126,6) (129.4,16.6) (136.2,46) (145.3,91) (154.4,178) (163.5,316) (172.6,480) (186.2,550) (199.8,730) (213.4,950) (229.3,1040) (243,1110) (256.6,1220) (267.9,1190) (277,950) (286.1,780) (295.2,665) (304.3,555) (313.3,595) (322.4,555) (336,525) (349.7,470) (362.8,400)};
\end{axis}
%================ captions =================
\node[font=\capf] at (236pt,-382pt) {(a) Italy};
\node[font=\capf] at (694pt,-382pt) {(b) United Kingdom};
\node[font=\capf] at (236pt,-792pt) {(c) Germany};
\node[font=\capf] at (694pt,-792pt) {(d) Portugal};
\node[font=\capf] at (236pt,-1200pt) {(e) Japan};
\node[font=\capf] at (694pt,-1200pt) {(f) India};
\end{tikzpicture}
\end{document}
